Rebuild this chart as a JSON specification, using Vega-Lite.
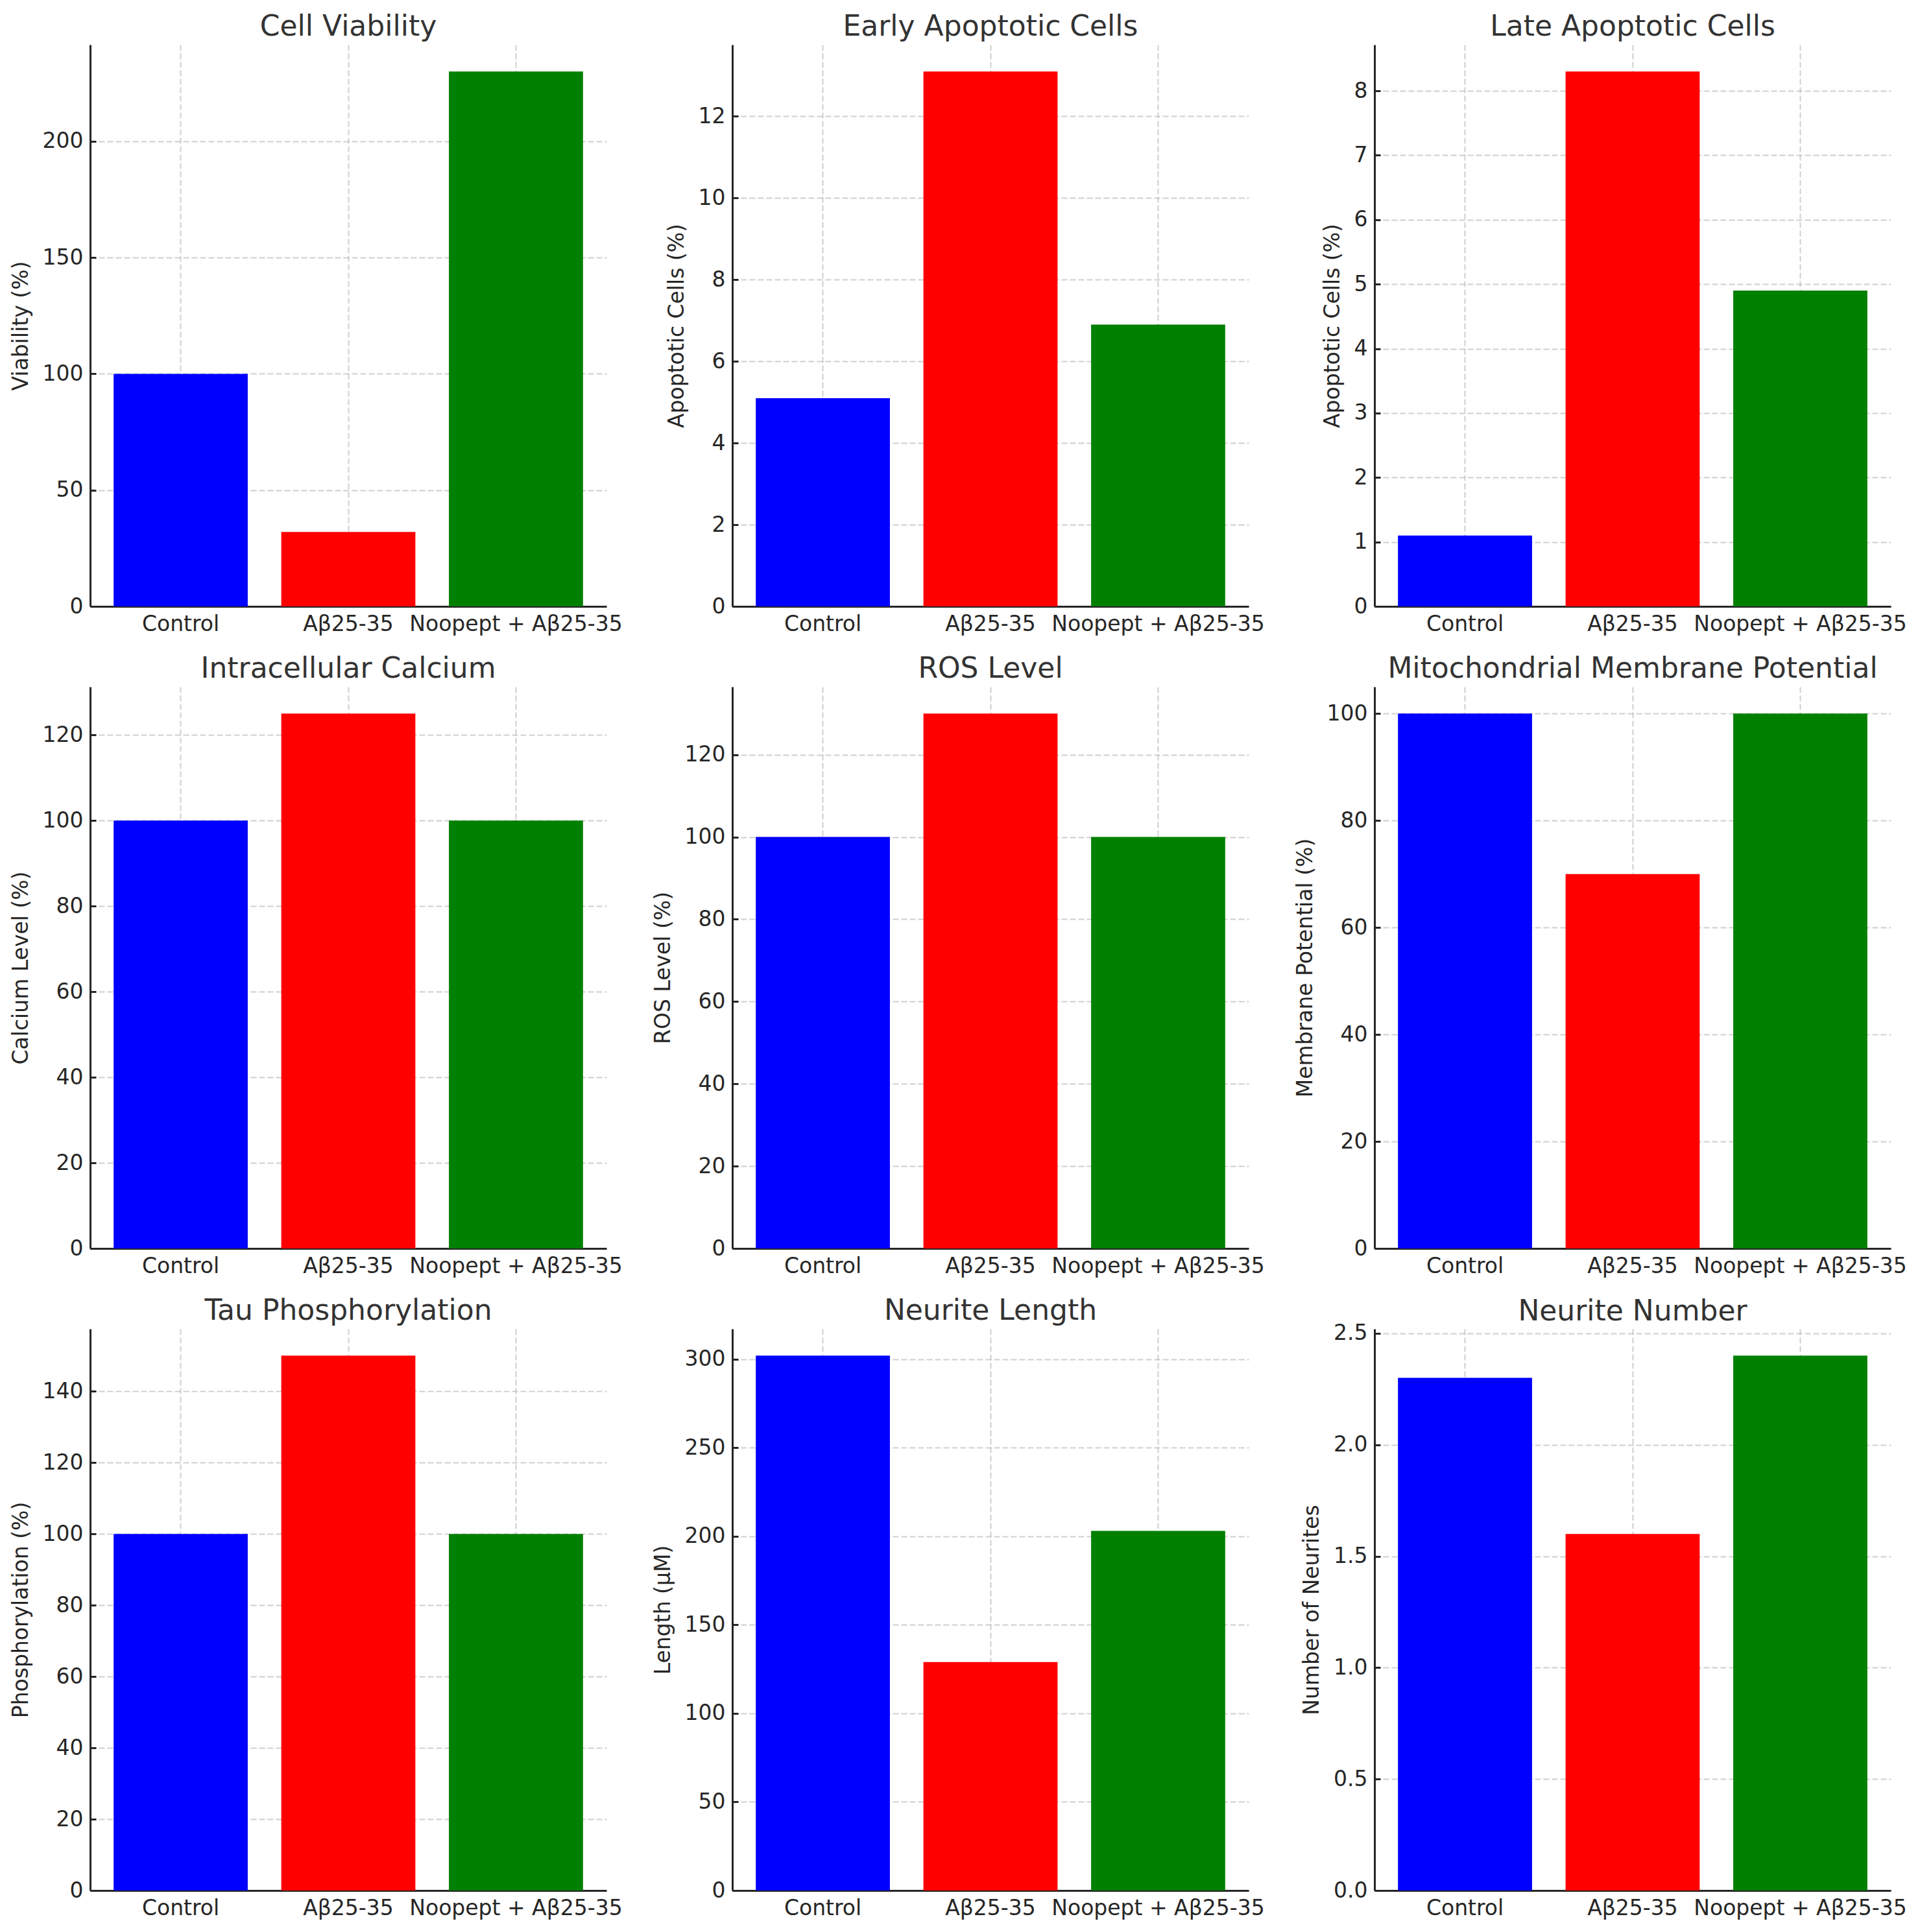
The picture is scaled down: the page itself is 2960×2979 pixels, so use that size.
{
  "$schema": "https://vega.github.io/schema/vega-lite/v6.json",
  "background": "white",
  "padding": {"left": 16, "top": 20, "right": 5, "bottom": 5},
  "bounds": "flush",
  "columns": 3,
  "spacing": {"column": 194, "row": 124},
  "data": {
    "values": [
      {"panel": "Cell Viability", "group": "Control", "value": 100},
      {"panel": "Cell Viability", "group": "Aβ25-35", "value": 32},
      {"panel": "Cell Viability", "group": "Noopept + Aβ25-35", "value": 230},
      {"panel": "Early Apoptotic Cells", "group": "Control", "value": 5.1},
      {"panel": "Early Apoptotic Cells", "group": "Aβ25-35", "value": 13.1},
      {"panel": "Early Apoptotic Cells", "group": "Noopept + Aβ25-35", "value": 6.9},
      {"panel": "Late Apoptotic Cells", "group": "Control", "value": 1.1},
      {"panel": "Late Apoptotic Cells", "group": "Aβ25-35", "value": 8.3},
      {"panel": "Late Apoptotic Cells", "group": "Noopept + Aβ25-35", "value": 4.9},
      {"panel": "Intracellular Calcium", "group": "Control", "value": 100},
      {"panel": "Intracellular Calcium", "group": "Aβ25-35", "value": 125},
      {"panel": "Intracellular Calcium", "group": "Noopept + Aβ25-35", "value": 100},
      {"panel": "ROS Level", "group": "Control", "value": 100},
      {"panel": "ROS Level", "group": "Aβ25-35", "value": 130},
      {"panel": "ROS Level", "group": "Noopept + Aβ25-35", "value": 100},
      {"panel": "Mitochondrial Membrane Potential", "group": "Control", "value": 100},
      {"panel": "Mitochondrial Membrane Potential", "group": "Aβ25-35", "value": 70},
      {"panel": "Mitochondrial Membrane Potential", "group": "Noopept + Aβ25-35", "value": 100},
      {"panel": "Tau Phosphorylation", "group": "Control", "value": 100},
      {"panel": "Tau Phosphorylation", "group": "Aβ25-35", "value": 150},
      {"panel": "Tau Phosphorylation", "group": "Noopept + Aβ25-35", "value": 100},
      {"panel": "Neurite Length", "group": "Control", "value": 302},
      {"panel": "Neurite Length", "group": "Aβ25-35", "value": 129},
      {"panel": "Neurite Length", "group": "Noopept + Aβ25-35", "value": 203},
      {"panel": "Neurite Number", "group": "Control", "value": 2.3},
      {"panel": "Neurite Number", "group": "Aβ25-35", "value": 1.6},
      {"panel": "Neurite Number", "group": "Noopept + Aβ25-35", "value": 2.4}
    ]
  },
  "config": {
    "view": {"stroke": null},
    "font": "DejaVu Sans",
    "title": {"font": "DejaVu Sans", "fontSize": 44, "fontWeight": "normal", "color": "#333333", "anchor": "middle", "offset": 5},
    "axis": {
      "zindex": 1,
      "domainColor": "#262626",
      "domainWidth": 3,
      "tickColor": "#262626",
      "tickWidth": 3,
      "tickSize": -9,
      "labelFont": "DejaVu Sans",
      "labelFontSize": 33,
      "labelColor": "#262626",
      "labelPadding": 20,
      "labelLimit": 0,
      "labelOverlap": false,
      "titleFont": "DejaVu Sans",
      "titleFontSize": 33,
      "titleFontWeight": "normal",
      "titleColor": "#262626",
      "titlePadding": 16,
      "grid": true,
      "gridColor": "#b0b0b0",
      "gridOpacity": 0.6,
      "gridWidth": 2,
      "gridDash": [9, 4]
    }
  },
  "concat": [
    {
      "title": "Cell Viability",
      "width": 796, "height": 866,
      "transform": [{"filter": "datum.panel === 'Cell Viability'"}],
      "mark": {"type": "bar"},
      "encoding": {
        "x": {"field": "group", "type": "nominal", "sort": ["Control", "Aβ25-35", "Noopept + Aβ25-35"], "scale": {"paddingInner": 0.2, "paddingOuter": 0.14}, "axis": {"title": null, "labelAngle": 0, "grid": true}},
        "y": {"field": "value", "type": "quantitative", "scale": {"domain": [0, 241.5], "nice": false}, "axis": {"title": "Viability (%)", "values": [0, 50, 100, 150, 200]}},
        "color": {"field": "group", "type": "nominal", "scale": {"domain": ["Control", "Aβ25-35", "Noopept + Aβ25-35"], "range": ["#0000ff", "#ff0000", "#008000"]}, "legend": null}
      }
    },
    {
      "title": "Early Apoptotic Cells",
      "width": 796, "height": 866,
      "transform": [{"filter": "datum.panel === 'Early Apoptotic Cells'"}],
      "mark": {"type": "bar"},
      "encoding": {
        "x": {"field": "group", "type": "nominal", "sort": ["Control", "Aβ25-35", "Noopept + Aβ25-35"], "scale": {"paddingInner": 0.2, "paddingOuter": 0.14}, "axis": {"title": null, "labelAngle": 0, "grid": true}},
        "y": {"field": "value", "type": "quantitative", "scale": {"domain": [0, 13.755], "nice": false}, "axis": {"title": "Apoptotic Cells (%)", "values": [0, 2, 4, 6, 8, 10, 12]}},
        "color": {"field": "group", "type": "nominal", "scale": {"domain": ["Control", "Aβ25-35", "Noopept + Aβ25-35"], "range": ["#0000ff", "#ff0000", "#008000"]}, "legend": null}
      }
    },
    {
      "title": "Late Apoptotic Cells",
      "width": 796, "height": 866,
      "transform": [{"filter": "datum.panel === 'Late Apoptotic Cells'"}],
      "mark": {"type": "bar"},
      "encoding": {
        "x": {"field": "group", "type": "nominal", "sort": ["Control", "Aβ25-35", "Noopept + Aβ25-35"], "scale": {"paddingInner": 0.2, "paddingOuter": 0.14}, "axis": {"title": null, "labelAngle": 0, "grid": true}},
        "y": {"field": "value", "type": "quantitative", "scale": {"domain": [0, 8.715], "nice": false}, "axis": {"title": "Apoptotic Cells (%)", "values": [0, 1, 2, 3, 4, 5, 6, 7, 8]}},
        "color": {"field": "group", "type": "nominal", "scale": {"domain": ["Control", "Aβ25-35", "Noopept + Aβ25-35"], "range": ["#0000ff", "#ff0000", "#008000"]}, "legend": null}
      }
    },
    {
      "title": "Intracellular Calcium",
      "width": 796, "height": 866,
      "transform": [{"filter": "datum.panel === 'Intracellular Calcium'"}],
      "mark": {"type": "bar"},
      "encoding": {
        "x": {"field": "group", "type": "nominal", "sort": ["Control", "Aβ25-35", "Noopept + Aβ25-35"], "scale": {"paddingInner": 0.2, "paddingOuter": 0.14}, "axis": {"title": null, "labelAngle": 0, "grid": true}},
        "y": {"field": "value", "type": "quantitative", "scale": {"domain": [0, 131.25], "nice": false}, "axis": {"title": "Calcium Level (%)", "values": [0, 20, 40, 60, 80, 100, 120]}},
        "color": {"field": "group", "type": "nominal", "scale": {"domain": ["Control", "Aβ25-35", "Noopept + Aβ25-35"], "range": ["#0000ff", "#ff0000", "#008000"]}, "legend": null}
      }
    },
    {
      "title": "ROS Level",
      "width": 796, "height": 866,
      "transform": [{"filter": "datum.panel === 'ROS Level'"}],
      "mark": {"type": "bar"},
      "encoding": {
        "x": {"field": "group", "type": "nominal", "sort": ["Control", "Aβ25-35", "Noopept + Aβ25-35"], "scale": {"paddingInner": 0.2, "paddingOuter": 0.14}, "axis": {"title": null, "labelAngle": 0, "grid": true}},
        "y": {"field": "value", "type": "quantitative", "scale": {"domain": [0, 136.5], "nice": false}, "axis": {"title": "ROS Level (%)", "values": [0, 20, 40, 60, 80, 100, 120]}},
        "color": {"field": "group", "type": "nominal", "scale": {"domain": ["Control", "Aβ25-35", "Noopept + Aβ25-35"], "range": ["#0000ff", "#ff0000", "#008000"]}, "legend": null}
      }
    },
    {
      "title": "Mitochondrial Membrane Potential",
      "width": 796, "height": 866,
      "transform": [{"filter": "datum.panel === 'Mitochondrial Membrane Potential'"}],
      "mark": {"type": "bar"},
      "encoding": {
        "x": {"field": "group", "type": "nominal", "sort": ["Control", "Aβ25-35", "Noopept + Aβ25-35"], "scale": {"paddingInner": 0.2, "paddingOuter": 0.14}, "axis": {"title": null, "labelAngle": 0, "grid": true}},
        "y": {"field": "value", "type": "quantitative", "scale": {"domain": [0, 105], "nice": false}, "axis": {"title": "Membrane Potential (%)", "values": [0, 20, 40, 60, 80, 100]}},
        "color": {"field": "group", "type": "nominal", "scale": {"domain": ["Control", "Aβ25-35", "Noopept + Aβ25-35"], "range": ["#0000ff", "#ff0000", "#008000"]}, "legend": null}
      }
    },
    {
      "title": "Tau Phosphorylation",
      "width": 796, "height": 866,
      "transform": [{"filter": "datum.panel === 'Tau Phosphorylation'"}],
      "mark": {"type": "bar"},
      "encoding": {
        "x": {"field": "group", "type": "nominal", "sort": ["Control", "Aβ25-35", "Noopept + Aβ25-35"], "scale": {"paddingInner": 0.2, "paddingOuter": 0.14}, "axis": {"title": null, "labelAngle": 0, "grid": true}},
        "y": {"field": "value", "type": "quantitative", "scale": {"domain": [0, 157.5], "nice": false}, "axis": {"title": "Phosphorylation (%)", "values": [0, 20, 40, 60, 80, 100, 120, 140]}},
        "color": {"field": "group", "type": "nominal", "scale": {"domain": ["Control", "Aβ25-35", "Noopept + Aβ25-35"], "range": ["#0000ff", "#ff0000", "#008000"]}, "legend": null}
      }
    },
    {
      "title": "Neurite Length",
      "width": 796, "height": 866,
      "transform": [{"filter": "datum.panel === 'Neurite Length'"}],
      "mark": {"type": "bar"},
      "encoding": {
        "x": {"field": "group", "type": "nominal", "sort": ["Control", "Aβ25-35", "Noopept + Aβ25-35"], "scale": {"paddingInner": 0.2, "paddingOuter": 0.14}, "axis": {"title": null, "labelAngle": 0, "grid": true}},
        "y": {"field": "value", "type": "quantitative", "scale": {"domain": [0, 317.1], "nice": false}, "axis": {"title": "Length (μM)", "values": [0, 50, 100, 150, 200, 250, 300]}},
        "color": {"field": "group", "type": "nominal", "scale": {"domain": ["Control", "Aβ25-35", "Noopept + Aβ25-35"], "range": ["#0000ff", "#ff0000", "#008000"]}, "legend": null}
      }
    },
    {
      "title": {"text": "Neurite Number", "offset": -5},
      "width": 796, "height": 866,
      "transform": [{"filter": "datum.panel === 'Neurite Number'"}],
      "mark": {"type": "bar"},
      "encoding": {
        "x": {"field": "group", "type": "nominal", "sort": ["Control", "Aβ25-35", "Noopept + Aβ25-35"], "scale": {"paddingInner": 0.2, "paddingOuter": 0.14}, "axis": {"title": null, "labelAngle": 0, "grid": true}},
        "y": {"field": "value", "type": "quantitative", "scale": {"domain": [0, 2.52], "nice": false}, "axis": {"title": "Number of Neurites", "values": [0, 0.5, 1, 1.5, 2, 2.5], "format": ".1f"}},
        "color": {"field": "group", "type": "nominal", "scale": {"domain": ["Control", "Aβ25-35", "Noopept + Aβ25-35"], "range": ["#0000ff", "#ff0000", "#008000"]}, "legend": null}
      }
    }
  ]
}
